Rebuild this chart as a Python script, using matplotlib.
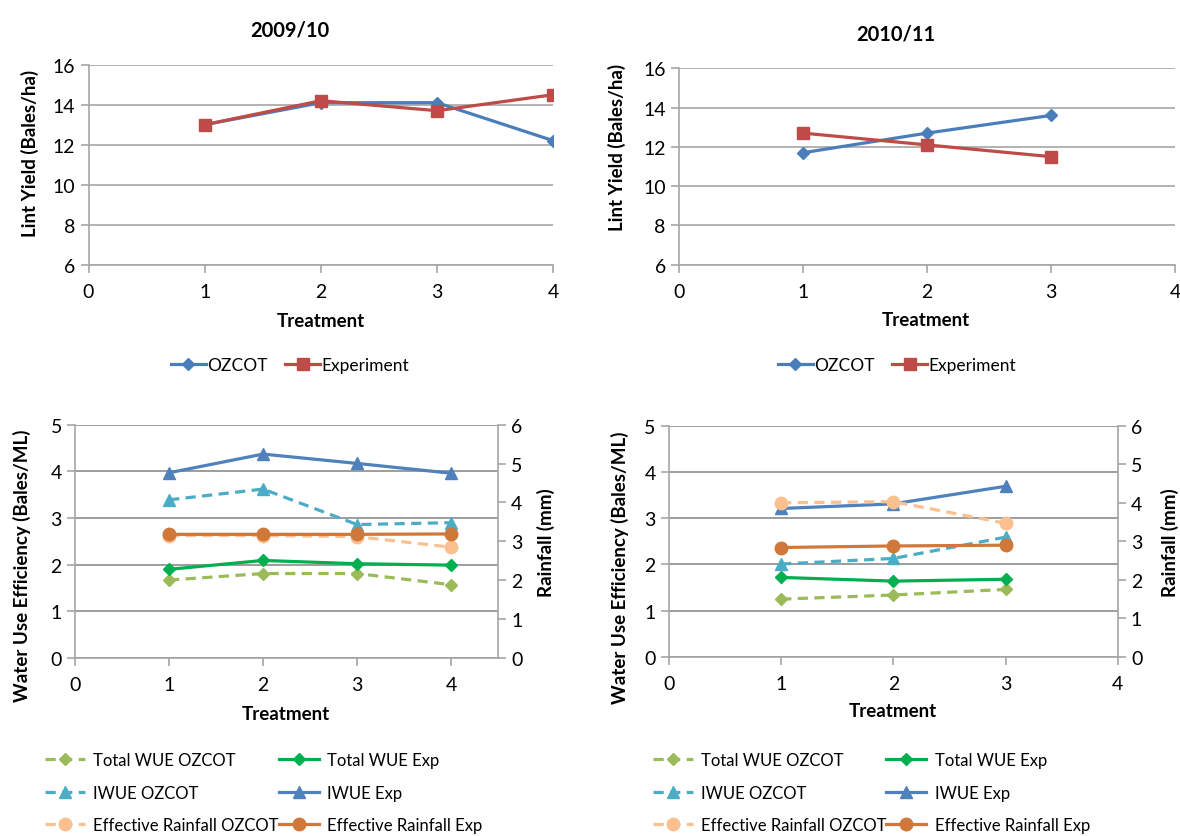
import matplotlib
matplotlib.use("Agg")
import matplotlib.pyplot as plt

plt.rcParams["font.family"] = ["Lato", "DejaVu Sans"]

# lint yield, 2009/10 season
treat_0910 = [1, 2, 3, 4]
yield_ozcot_0910 = [13.0, 14.1, 14.1, 12.2]
yield_exp_0910 = [13.0, 14.2, 13.7, 14.5]

# lint yield, 2010/11 season
treat_1011 = [1, 2, 3]
yield_ozcot_1011 = [11.7, 12.7, 13.6]
yield_exp_1011 = [12.7, 12.1, 11.5]

# water use efficiency (Bales/ML) and effective rainfall (mm), 2009/10
twue_ozcot_0910 = [1.67, 1.81, 1.81, 1.57]
twue_exp_0910 = [1.90, 2.09, 2.02, 1.99]
iwue_ozcot_0910 = [3.39, 3.62, 2.86, 2.90]
iwue_exp_0910 = [3.97, 4.37, 4.17, 3.96]
rain_ozcot_0910 = [3.15, 3.15, 3.12, 2.85]
rain_exp_0910 = [3.18, 3.18, 3.18, 3.19]

# same, 2010/11
twue_ozcot_1011 = [1.25, 1.34, 1.46]
twue_exp_1011 = [1.72, 1.64, 1.68]
iwue_ozcot_1011 = [2.01, 2.13, 2.59]
iwue_exp_1011 = [3.21, 3.31, 3.69]
rain_ozcot_1011 = [4.00, 4.03, 3.47]
rain_exp_1011 = [2.84, 2.88, 2.90]

C_OZ = "#4a7ebb"
C_EX = "#be4b48"
C_TW_OZ = "#9bbb59"
C_TW_EX = "#00b050"
C_IW_OZ = "#4bacc6"
C_IW_EX = "#4f81bd"
C_RN_OZ = "#fac090"
C_RN_EX = "#d0783a"
AXC = "#a6a6a6"
DASH = (0, (3.2, 2.0))
TICK_FS = 14
LAB_FS = 13.5

fig = plt.figure(figsize=(11.8, 8.37), dpi=100)


def style_axes(ax, grid_color):
    for s in ["top", "right"]:
        ax.spines[s].set_visible(False)
    for s in ["left", "bottom"]:
        ax.spines[s].set_color(AXC)
        ax.spines[s].set_linewidth(1.2)
    ax.tick_params(axis="both", colors=AXC, labelcolor="black", labelsize=TICK_FS,
                   length=6, width=1.2, direction="out")
    ax.tick_params(axis="x", pad=7)
    ax.grid(axis="y", color=grid_color, linewidth=1.2)
    ax.set_axisbelow(True)


def yield_panel(rect, x, oz, ex, title, title_xy, ylab_xy, xlab_xy, leg_x):
    ax = fig.add_axes(rect)
    style_axes(ax, "#a6a6a6")
    ax.plot(x, oz, color=C_OZ, lw=2.3, marker="D", ms=6.5, label="OZCOT")
    ax.plot(x, ex, color=C_EX, lw=2.3, marker="s", ms=8, label="Experiment")
    ax.set_xlim(0, 4)
    ax.set_ylim(6, 16)
    ax.set_xticks(range(0, 5))
    ax.set_yticks(range(6, 17, 2))
    ax.set_xlabel("Treatment", fontsize=LAB_FS, fontweight="bold", va="center")
    ax.xaxis.set_label_coords(*xlab_xy)
    ax.set_ylabel("Lint Yield (Bales/ha)", fontsize=LAB_FS, fontweight="bold",
                  va="center")
    ax.yaxis.set_label_coords(*ylab_xy)
    fig.text(title_xy[0], title_xy[1], title, fontsize=14.5, fontweight="bold",
             ha="center", va="center")
    fig.legend(loc="center", bbox_to_anchor=(leg_x, 0.5627), ncol=2, frameon=False,
               fontsize=12.5, handlelength=2.0, handletextpad=0.1, columnspacing=1.0,
               handles=ax.get_lines())
    return ax


def wue_panel(rect, x, xmax, series, rains, ylab_xy, rlab_xy, xlab_xy, leg_xy):
    ax = fig.add_axes(rect)
    style_axes(ax, "#8c8c8c")
    (tw_oz, tw_ex, iw_oz, iw_ex) = series
    (rn_oz, rn_ex) = rains
    h_tw_oz, = ax.plot(x, tw_oz, color=C_TW_OZ, lw=2.3, ls=DASH, marker="D", ms=6.5,
                       label="Total WUE OZCOT")
    h_tw_ex, = ax.plot(x, tw_ex, color=C_TW_EX, lw=2.3, marker="D", ms=6.5,
                       label="Total WUE Exp")
    h_iw_oz, = ax.plot(x, iw_oz, color=C_IW_OZ, lw=2.3, ls=DASH, marker="^", ms=9,
                       label="IWUE OZCOT")
    h_iw_ex, = ax.plot(x, iw_ex, color=C_IW_EX, lw=2.3, marker="^", ms=9,
                       label="IWUE Exp")
    ax.set_xlim(0, xmax)
    ax.set_ylim(0, 5)
    ax.set_xticks(range(0, 5))
    ax.set_yticks(range(0, 6))
    ax.set_xlabel("Treatment", fontsize=LAB_FS, fontweight="bold", va="center")
    ax.xaxis.set_label_coords(*xlab_xy)
    ax.set_ylabel("Water Use Efficiency (Bales/ML)", fontsize=LAB_FS,
                  fontweight="bold", va="center")
    ax.yaxis.set_label_coords(*ylab_xy)

    # effective rainfall sits on a secondary axis
    ax2 = ax.twinx()
    for s in ["top", "left", "bottom"]:
        ax2.spines[s].set_visible(False)
    ax2.spines["right"].set_color(AXC)
    ax2.spines["right"].set_linewidth(1.2)
    ax2.tick_params(axis="y", colors=AXC, labelcolor="black", labelsize=TICK_FS,
                    length=6, width=1.2, direction="out")
    h_rn_oz, = ax2.plot(x, rn_oz, color=C_RN_OZ, lw=2.3, ls=DASH, marker="o", ms=9,
                        label="Effective Rainfall OZCOT")
    h_rn_ex, = ax2.plot(x, rn_ex, color=C_RN_EX, lw=2.3, marker="o", ms=9,
                        label="Effective Rainfall Exp")
    ax2.set_ylim(0, 6)
    ax2.set_yticks(range(0, 7))
    ax2.set_ylabel("Rainfall (mm)", fontsize=LAB_FS, fontweight="bold", va="center")
    ax2.yaxis.set_label_coords(*rlab_xy)

    handles = [h_tw_oz, h_iw_oz, h_rn_oz, h_tw_ex, h_iw_ex, h_rn_ex]
    fig.legend(handles=handles, loc="upper left", bbox_to_anchor=leg_xy, ncol=2,
               frameon=False, fontsize=12, handlelength=2.4, handletextpad=0.5,
               columnspacing=0.0, labelspacing=1.0, borderpad=0, borderaxespad=0)
    return ax, ax2


yield_panel([0.0750, 0.6826, 0.3939, 0.2389], treat_0910, yield_ozcot_0910,
            yield_exp_0910, "2009/10", (0.2458, 0.964), (-0.125, 0.56),
            (0.50, -0.277), 0.2458)
yield_panel([0.5754, 0.6826, 0.4203, 0.2346], treat_1011, yield_ozcot_1011,
            yield_exp_1011, "2010/11", (0.7593, 0.959), (-0.126, 0.60),
            (0.498, -0.281), 0.7602)

wue_panel([0.0636, 0.2127, 0.3585, 0.2787], treat_0910, 4.5,
          (twue_ozcot_0910, twue_exp_0910, iwue_ozcot_0910, iwue_exp_0910),
          (rain_ozcot_0910, rain_exp_0910), (-0.125, 0.40), (1.113, 0.50),
          (0.499, -0.236), (0.038, 0.1005))
wue_panel([0.5669, 0.2139, 0.3803, 0.2763], treat_1011, 4,
          (twue_ozcot_1011, twue_exp_1011, iwue_ozcot_1011, iwue_exp_1011),
          (rain_ozcot_1011, rain_exp_1011), (-0.109, 0.39), (1.117, 0.50),
          (0.499, -0.233), (0.553, 0.1005))

fig.savefig("out.png", dpi=100)
